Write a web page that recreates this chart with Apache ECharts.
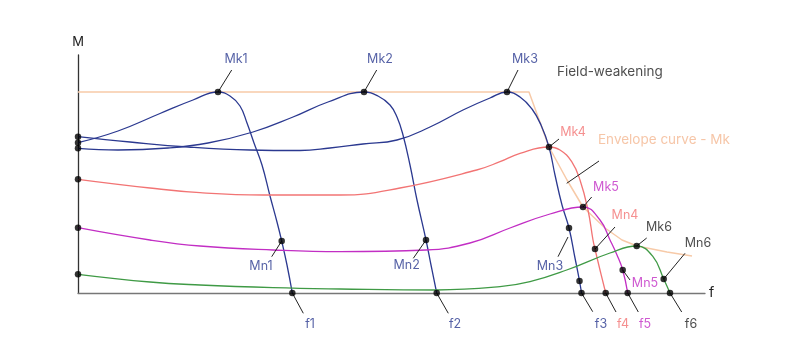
<!DOCTYPE html>
<html>
<head>
<meta charset="utf-8">
<script src="https://cdn.jsdelivr.net/npm/echarts@6/dist/echarts.min.js"></script>
<style>
  html, body { margin: 0; padding: 0; background: #ffffff; }
  #chart { width: 789px; height: 359px; }
</style>
</head>
<body>
<div id="chart"></div>
<script>
// Torque (M) against supply frequency (f): one torque curve per frequency step,
// with the breakdown torques Mk, nominal points Mn and the envelope curve.

const curveF1 = [[0,150.3],[40,162],[82,179.5],[115,193],[140,201],[152,197],[162,187],[169,170],[176,150],[184,128],[192,97],[199,71],[203.7,52],[209,28],[214.3,0]];
const curveF2 = [[0,144.7],[40,143],[90,145],[130,150],[175,161],[215,176],[250,191],[286,201],[300,197],[312,188],[319,176],[325,158],[332,128],[339,93],[348,53],[353,28],[358.7,0]];
const curveF3 = [[0,156.3],[52,151],[110,146],[172,143],[222,142.5],[252,145],[285,149],[319,153],[352,166],[385,183],[412,195],[429,201],[442,196],[454,184],[463,168],[471,146],[477,118],[484,88],[491,65],[497,35],[501.5,12],[503.5,0]];
const curveF4 = [[0,113.7],[72,105],[122,100.3],[185,98],[262,98],[322,105],[398.7,123],[422,131.3],[442,139.7],[471,146],[482,143],[493.7,131.3],[502,113],[510,83],[515,53],[517,44],[522,23],[527.7,0]];
const curveF5 = [[0,65.3],[72,53],[122,47],[195,43],[262,41.3],[348,43],[392,50],[432,65],[472,79],[505,86],[522,73],[532,53],[539,38],[544.7,23],[549.7,0]];
const curveF6 = [[0,18.7],[72,11],[122,8],[195,5.3],[262,4],[358.7,3],[422,6.3],[452,11.3],[488.7,23],[532,40],[558.7,47],[575,36.3],[585.7,14],[592,0]];
const envelope = [[0,201],[451,201],[471,146],[489,113],[505,86],[527,65],[544,53],[559,47],[589,41],[614,37]];

// Marked points: start torques on the M axis, Mk, Mn and the f crossings
const points = [
  [0,156.3],[0,150.3],[0,144.7],[0,113.7],[0,65.3],[0,18.7],
  [140,201],[286,201],[429,201],[471,146],[505,86],[558.7,47],
  [203.7,52],[348,53],[491,65],[501.5,12],[517,44],[544.7,23],[585.7,14],
  [214.3,0],[358.7,0],[503.5,0],[527.7,0],[549.7,0],[592,0]
];

// Leader lines from a point to its label
const leaders = [
  [[140,201],[153.7,223]], [[286,201],[298.7,223]], [[429,201],[440,223]],
  [[471,146],[481,154]], [[488.7,109.7],[521,132]], [[505,86],[513.7,96]],
  [[517,44],[537,66]], [[558.7,47],[568.7,55]], [[585.7,14],[607,39.7]],
  [[544.7,23],[552,13]], [[480,36.3],[490,56]], [[203.7,52],[193.7,36.3]],
  [[348,53],[335.3,34.7]],
  [[214.3,0],[225.3,-20.3]], [[358.7,0],[370.3,-20.3]], [[503.5,0],[514.7,-18.7]],
  [[527.7,0],[538,-19]], [[549.7,0],[560.3,-19]], [[592,0],[603.7,-19]]
];

const NAVY = '#2b3990', RED = '#f27474', PURPLE = '#c22ec4', GREEN = '#3f9a45',
      PEACH = '#f7caa8', PEACH_TEXT = '#f4b892', DARK = '#222222';

// Label texts with their anchor positions and colours
const labelTexts = ['Mk1','Mk2','Mk3','Field-weakening','Mk4','Envelope curve - Mk','Mk5','Mn4','Mk6','Mn6','Mn5','Mn3','Mn1','Mn2','f1','f2','f3','f4','f5','f6'];
const labelAt = [[158,234],[302,234],[447,234],[479,221],[495,161],[520,153],[528,106],[547,78],[581,66],[620,50],[567,10],[472,27],[183,27],[328.7,27.3],[232,-31],[377,-31],[523,-31],[545,-31],[567,-31],[613,-31]];
const labelColor = [NAVY,NAVY,NAVY,DARK,RED,PEACH_TEXT,PURPLE,RED,DARK,DARK,PURPLE,NAVY,NAVY,NAVY,NAVY,NAVY,NAVY,RED,PURPLE,DARK];

const FONT = 'Inter, "Noto Sans", sans-serif';

function curve(data, color, z) {
  return {
    type: 'line', data: data, smooth: 0.45,
    showSymbol: false, z: z || 2, clip: false, silent: true,
    lineStyle: { color: color, width: 1.3 }
  };
}

const series = [
  {
    type: 'line', data: envelope, showSymbol: false, z: 1, silent: true,
    lineStyle: { color: PEACH, width: 1.5 }
  },
  curve(curveF1, NAVY), curve(curveF2, NAVY), curve(curveF3, NAVY),
  curve(curveF4, RED), curve(curveF5, PURPLE), curve(curveF6, GREEN)
];

leaders.forEach(function (seg) {
  series.push({
    type: 'line', data: seg, showSymbol: false, clip: false, silent: true, z: 3,
    lineStyle: { color: DARK, width: 1 }
  });
});

series.push({
  type: 'scatter', data: points, symbolSize: 6.5, z: 5, silent: true,
  itemStyle: { color: '#000000' }
});

series.push({
  type: 'scatter', symbolSize: 0, clip: false, silent: true, z: 6,
  data: labelTexts.map(function (t, i) {
    const left = (t === 'Field-weakening' || t === 'Envelope curve - Mk');
    return {
      value: labelAt[i],
      label: {
        show: true, position: 'inside', formatter: t,
        color: labelColor[i], fontFamily: FONT,
        fontSize: left ? 13.5 : 12.5,
        align: left ? 'left' : 'center', verticalAlign: 'middle'
      }
    };
  })
});

const chart = echarts.init(document.getElementById('chart'), null, { renderer: 'canvas' });
chart.setOption({
  animation: false,
  backgroundColor: '#ffffff',
  grid: { left: 78, right: 84, top: 55, bottom: 66 },
  xAxis: {
    type: 'value', min: 0, max: 627,
    name: 'f', nameLocation: 'end', nameGap: 4,
    nameTextStyle: { color: DARK, fontFamily: FONT, fontSize: 14, verticalAlign: 'middle' },
    axisLine: { show: true, onZero: false, lineStyle: { color: '#777777', width: 1.3 } },
    axisTick: { show: false }, axisLabel: { show: false }, splitLine: { show: false }
  },
  yAxis: {
    type: 'value', min: 0, max: 238,
    name: 'M', nameLocation: 'end', nameGap: 6,
    nameTextStyle: { color: DARK, fontFamily: FONT, fontSize: 13, align: 'center' },
    axisLine: { show: true, lineStyle: { color: '#333333', width: 1.3 } },
    axisTick: { show: false }, axisLabel: { show: false }, splitLine: { show: false }
  },
  series: series
});
</script>
</body>
</html>
